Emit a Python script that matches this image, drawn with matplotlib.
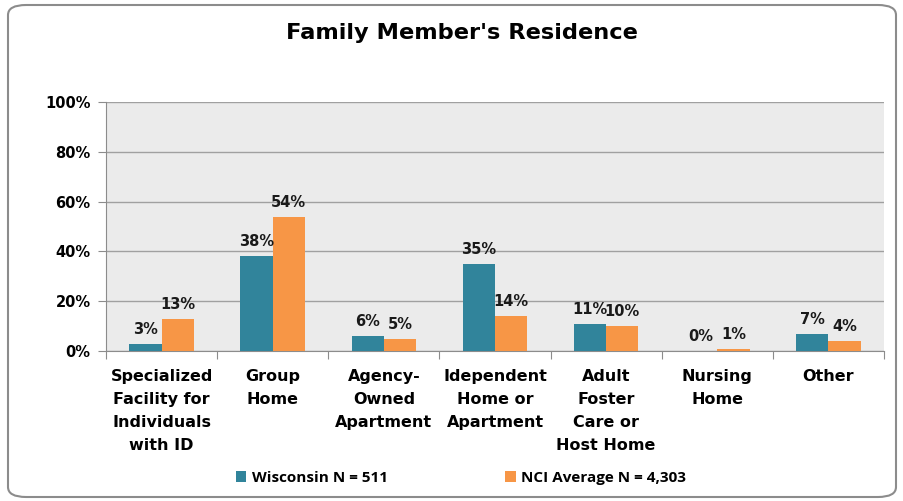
import matplotlib.pyplot as plt
import numpy as np
from matplotlib.patches import FancyBboxPatch

categories = ["Specialized\nFacility for\nIndividuals\nwith ID", "Group\nHome", "Agency-\nOwned\nApartment",
              "Idependent\nHome or\nApartment", "Adult\nFoster\nCare or\nHost Home", "Nursing\nHome", "Other"]
wisconsin = [3, 38, 6, 35, 11, 0, 7]
nci = [13, 54, 5, 14, 10, 1, 4]
series_names = ["Wisconsin N = 511", "NCI Average N = 4,303"]
yticks = [0, 20, 40, 60, 80, 100]

c_wi = "#31849B"
c_nci = "#F79646"

fig = plt.figure(figsize=(9.04, 5.01), dpi=100)
fig.patch.set_facecolor("white")
frame = FancyBboxPatch((8/904, 4/501), 888/904, 492/501, boxstyle="round,pad=0,rounding_size=0.02",
                       transform=fig.transFigure, facecolor="white", edgecolor="#8C8C8C", linewidth=1.5,
                       zorder=-5)
fig.patches.append(frame)

ax = fig.add_axes([106/904, 1-351/501, 778/904, 249/501])
ax.set_zorder(2)
ax.set_facecolor("#EBEBEB")
x = np.arange(len(categories))
w = 0.29
ax.bar(x - w/2, wisconsin, w, color=c_wi, label=series_names[0], zorder=3)
ax.bar(x + w/2, nci, w, color=c_nci, label=series_names[1], zorder=3)

for i in range(len(categories)):
    ax.annotate(f"{wisconsin[i]}%", (x[i] - w/2, wisconsin[i]), xytext=(0, 5), textcoords="offset points",
                ha="center", va="bottom", fontsize=10.5, fontweight="bold", color="#1a1a1a")
    ax.annotate(f"{nci[i]}%", (x[i] + w/2, nci[i]), xytext=(0, 5), textcoords="offset points",
                ha="center", va="bottom", fontsize=10.5, fontweight="bold", color="#1a1a1a")

ax.set_xlim(-0.5, len(categories) - 0.5)
ax.set_ylim(0, 100)
ax.set_yticks(yticks)
ax.set_yticklabels([f"{v}%" for v in yticks], fontsize=10.5, fontweight="bold")
ax.yaxis.grid(True, color="#A0A0A0", linewidth=1, zorder=0)
ax.set_axisbelow(True)
ax.set_xticks(np.arange(len(categories) + 1) - 0.5, minor=False)
ax.set_xticklabels([])
ax.tick_params(axis="x", length=6, color="#8C8C8C")
ax.tick_params(axis="y", length=6, color="#8C8C8C", pad=5)
ax.set_xticks(x, minor=True)
ax.set_xticklabels(categories, minor=True, fontsize=11.5, fontweight="bold", linespacing=1.67, va="top")
ax.tick_params(axis="x", which="minor", length=0, pad=13)
for s in ["top", "right"]:
    ax.spines[s].set_visible(False)
for s in ["left", "bottom"]:
    ax.spines[s].set_color("#8C8C8C")

fig.text(462/904, 1-33/501, "Family Member's Residence", ha="center", va="center", fontsize=16.2,
         fontweight="bold")

leg = fig.legend(loc="center", bbox_to_anchor=(0.51, 1-478/501), ncol=2, frameon=False,
                 prop={"weight": "bold", "size": 11, "family": "Open Sans"}, handlelength=0.7,
                 handleheight=0.7, columnspacing=7.7, handletextpad=0.35)

fig.savefig("out.png", dpi=100)
